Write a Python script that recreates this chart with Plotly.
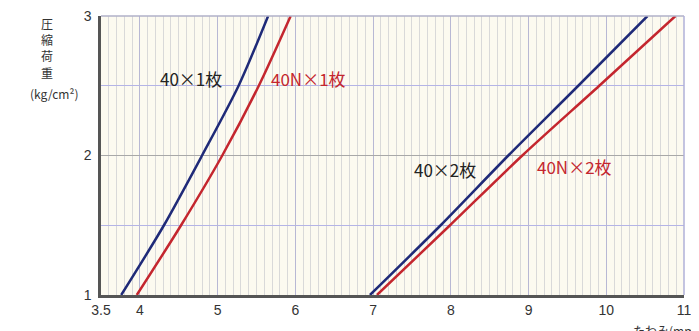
import plotly.graph_objects as go

# 圧縮荷重 (kg/cm2) vs たわみ (mm)
carga = [1.0, 1.5, 2.0, 2.5, 3.0]
x_40_1 = [3.76, 4.31, 4.80, 5.27, 5.65]
x_40n_1 = [3.96, 4.53, 5.06, 5.53, 5.94]
x_40_2 = [6.96, 7.87, 8.74, 9.64, 10.53]
x_40n_2 = [7.05, 7.99, 8.92, 9.91, 10.89]

xticks = [3.5, 4, 5, 6, 7, 8, 9, 10, 11]
xtick_labels = ["3.5", "4", "5", "6", "7", "8", "9", "10", "11"]
yticks = [1, 2, 3]

AZUL = "#1f2a78"
ROJO = "#c4262e"
FUENTE = "Noto Sans CJK JP, Noto Sans, sans-serif"
FUENTE_NUM = "Liberation Sans, Arial, sans-serif"

fig = go.Figure()
for xs, color in [(x_40_1, AZUL), (x_40n_1, ROJO), (x_40_2, AZUL), (x_40n_2, ROJO)]:
    fig.add_trace(go.Scatter(x=xs, y=carga, mode="lines",
                             line=dict(color=color, width=2.5, shape="spline", smoothing=0.8),
                             showlegend=False, hoverinfo="skip"))

etiquetas = [
    ("40×1枚", 4.66, 2.55, "#222222"),
    ("40N×1枚", 6.17, 2.55, ROJO),
    ("40×2枚", 7.93, 1.90, "#222222"),
    ("40N×2枚", 9.59, 1.92, ROJO),
]
for texto, x, y, color in etiquetas:
    fig.add_annotation(x=x, y=y, text=texto, showarrow=False,
                       font=dict(size=17, color=color, family=FUENTE))

# titulo eje y, un caracter por linea
for i, c in enumerate("圧縮荷重"):
    fig.add_annotation(xref="paper", yref="paper", x=-0.092, y=1.0 - i * 0.059,
                       xanchor="center", yanchor="middle", yshift=-7,
                       text=c, showarrow=False,
                       font=dict(size=12, color="#333333", family=FUENTE))
fig.add_annotation(xref="paper", yref="paper", x=-0.08, y=0.722, xanchor="center", yanchor="middle",
                   text="(kg/cm²)", showarrow=False,
                   font=dict(size=12, color="#333333", family=FUENTE))
# titulo eje x
fig.add_annotation(xref="paper", yref="paper", x=1.0, y=-0.09, xanchor="left", yanchor="top",
                   xshift=-53, text="たわみ(mm)", showarrow=False,
                   font=dict(size=12, color="#333333", family=FUENTE))

fig.update_xaxes(range=[3.5, 11], tickmode="array", tickvals=xticks, ticktext=xtick_labels,
                 showgrid=True, gridcolor="#b8b8d4", gridwidth=1,
                 minor=dict(tickmode="linear", tick0=3.5, dtick=0.1, showgrid=True,
                            gridcolor="#d9d9d9", gridwidth=1),
                 showline=True, linecolor="#555555", linewidth=2.5, mirror=False,
                 ticks="", zeroline=False, automargin=False, ticklabeloverflow="allow",
                 tickfont=dict(size=14, color="#333333", family=FUENTE_NUM))
fig.update_yaxes(range=[1, 3], tickmode="array", tickvals=yticks,
                 showgrid=True, gridcolor="#a8a8a8", gridwidth=1,
                 minor=dict(tickmode="linear", tick0=1, dtick=0.5, showgrid=True,
                            gridcolor="#b4b4e6", gridwidth=1),
                 showline=True, linecolor="#555555", linewidth=2.5, mirror=False,
                 ticks="", zeroline=False, automargin=False, ticklabelstandoff=4,
                 ticklabeloverflow="allow",
                 tickfont=dict(size=14, color="#333333", family=FUENTE_NUM))

# borde superior y derecho
fig.add_shape(type="line", xref="paper", yref="paper", x0=0, x1=1, y0=1, y1=1,
              line=dict(color="#b0b0c8", width=1.5))
fig.add_shape(type="line", xref="paper", yref="paper", x0=1, x1=1, y0=0, y1=1,
              line=dict(color="#b0b0d8", width=1.5))

fig.update_layout(width=699, height=331,
                  margin=dict(l=93, r=23, t=8, b=44),
                  plot_bgcolor="#fcfaf0", paper_bgcolor="white",
                  font=dict(family=FUENTE))

fig.write_html("out.html")
